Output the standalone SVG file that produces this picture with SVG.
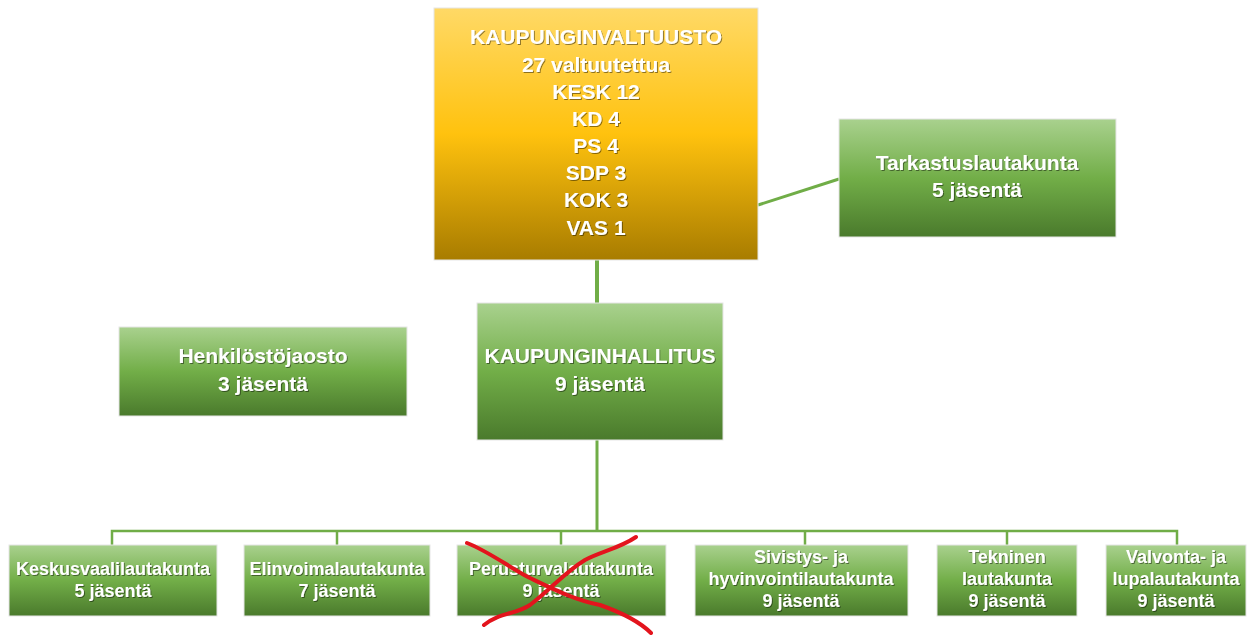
<svg xmlns="http://www.w3.org/2000/svg" width="1253" height="635" viewBox="0 0 1253 635">
<defs>
<linearGradient id="gOrange" x1="0" y1="0" x2="0" y2="1">
<stop offset="0" stop-color="#ffd966"/>
<stop offset="0.5" stop-color="#ffc20e"/>
<stop offset="1" stop-color="#a87c00"/>
</linearGradient>
<linearGradient id="gGreen" x1="0" y1="0" x2="0" y2="1">
<stop offset="0" stop-color="#a9d18e"/>
<stop offset="0.5" stop-color="#72ae48"/>
<stop offset="1" stop-color="#4a7a2c"/>
</linearGradient>
<filter id="ts" x="-10%" y="-30%" width="120%" height="160%">
<feDropShadow dx="1" dy="1" stdDeviation="0.7" flood-color="#000" flood-opacity="0.45"/>
</filter>
</defs>
<style>
.box{stroke:#e6e6e6;stroke-width:1}
.o{fill:url(#gOrange)}
.g{fill:url(#gGreen)}
text{font-family:"Liberation Sans",Arial,sans-serif;font-weight:bold;fill:#fff;text-anchor:middle;filter:url(#ts)}
.big{font-size:21px}
.small{font-size:18px}
.con{stroke:#70ad47;fill:none}
.x{stroke:#e3141d;stroke-width:4;fill:none;stroke-linecap:round}
</style>
<rect width="1253" height="635" fill="#fff"/>
<g id="connectors">
<line class="con" x1="597" y1="260" x2="597" y2="304" stroke-width="4"/>
<line class="con" x1="758" y1="205" x2="839" y2="179" stroke-width="3"/>
<line class="con" x1="597" y1="440" x2="597" y2="532" stroke-width="3"/>
<polyline class="con" points="112,545 112,531 1177,531 1177,545" stroke-width="2.5"/>
<line class="con" x1="337" y1="531" x2="337" y2="545" stroke-width="2.5"/>
<line class="con" x1="561" y1="531" x2="561" y2="545" stroke-width="2.5"/>
<line class="con" x1="805" y1="531" x2="805" y2="545" stroke-width="2.5"/>
<line class="con" x1="1007" y1="531" x2="1007" y2="545" stroke-width="2.5"/>
</g>
<g id="kaupunginvaltuusto">
<rect class="box o" x="434" y="8" width="324" height="252"/>
<text class="big" x="596" y="44">KAUPUNGINVALTUUSTO</text>
<text class="big" x="596" y="72">27 valtuutettua</text>
<text class="big" x="596" y="99">KESK 12</text>
<text class="big" x="596" y="126">KD 4</text>
<text class="big" x="596" y="153">PS 4</text>
<text class="big" x="596" y="180">SDP 3</text>
<text class="big" x="596" y="207">KOK 3</text>
<text class="big" x="596" y="235">VAS 1</text>
</g>
<g id="tarkastuslautakunta">
<rect class="box g" x="839" y="119" width="277" height="118"/>
<text class="big" x="977" y="170">Tarkastuslautakunta</text>
<text class="big" x="977" y="197">5 jäsentä</text>
</g>
<g id="kaupunginhallitus">
<rect class="box g" x="477" y="303" width="246" height="137"/>
<text class="big" x="600" y="363">KAUPUNGINHALLITUS</text>
<text class="big" x="600" y="391">9 jäsentä</text>
</g>
<g id="henkilostojaosto">
<rect class="box g" x="119" y="327" width="288" height="89"/>
<text class="big" x="263" y="363">Henkilöstöjaosto</text>
<text class="big" x="263" y="391">3 jäsentä</text>
</g>
<g id="keskusvaalilautakunta">
<rect class="box g" x="9" y="545" width="208" height="71"/>
<text class="small" x="113" y="575">Keskusvaalilautakunta</text>
<text class="small" x="113" y="597">5 jäsentä</text>
</g>
<g id="elinvoimalautakunta">
<rect class="box g" x="244" y="545" width="186" height="71"/>
<text class="small" x="337" y="575">Elinvoimalautakunta</text>
<text class="small" x="337" y="597">7 jäsentä</text>
</g>
<g id="perusturvalautakunta">
<rect class="box g" x="457" y="545" width="209" height="71"/>
<text class="small" x="561" y="575">Perusturvalautakunta</text>
<text class="small" x="561" y="597">9 jäsentä</text>
</g>
<g id="sivistys">
<rect class="box g" x="695" y="545" width="213" height="71"/>
<text class="small" x="801" y="563">Sivistys- ja</text>
<text class="small" x="801" y="585">hyvinvointilautakunta</text>
<text class="small" x="801" y="607">9 jäsentä</text>
</g>
<g id="tekninen">
<rect class="box g" x="937" y="545" width="140" height="71"/>
<text class="small" x="1007" y="563">Tekninen</text>
<text class="small" x="1007" y="585">lautakunta</text>
<text class="small" x="1007" y="607">9 jäsentä</text>
</g>
<g id="valvonta">
<rect class="box g" x="1106" y="545" width="140" height="71"/>
<text class="small" x="1176" y="563">Valvonta- ja</text>
<text class="small" x="1176" y="585">lupalautakunta</text>
<text class="small" x="1176" y="607">9 jäsentä</text>
</g>
<g id="cross">
<path class="x" d="M467,543 C490,552 510,568 530,578 C555,590 575,600 600,605 C620,612 640,622 651,633"/>
<path class="x" d="M636,537 C620,548 600,552 585,560 C565,572 550,590 530,605 C515,615 500,612 484,625"/>
</g>
</svg>
